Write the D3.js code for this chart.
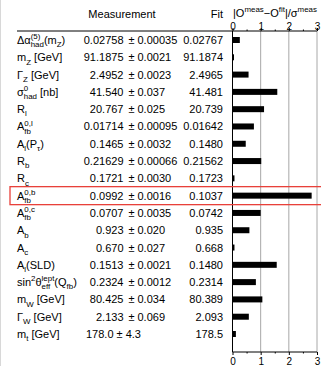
<!DOCTYPE html>
<html>
<head>
<meta charset="utf-8">
<script src="https://cdn.jsdelivr.net/npm/d3@7/dist/d3.min.js"></script>
<style>
  body { margin: 0; background: #fff; }
  text { font-family: "Liberation Sans", Arial, Helvetica, sans-serif; fill: #000; }
</style>
</head>
<body>
<svg id="chart" width="321" height="366"></svg>
<script>
// Electroweak observables: measurement, uncertainty, global-fit value and pull.
// Labels use a small markup: ^{..} superscript, _{..} subscript.
const categories = [
  "Δα^{(5)}_{had}(m_{Z})",
  "m_{Z} [GeV]",
  "Γ_{Z} [GeV]",
  "σ^{0}_{had} [nb]",
  "R_{l}",
  "A^{0,l}_{fb}",
  "A_{l}(P_{τ})",
  "R_{b}",
  "R_{c}",
  "A^{0,b}_{fb}",
  "A^{0,c}_{fb}",
  "A_{b}",
  "A_{c}",
  "A_{l}(SLD)",
  "sin^{2}θ^{lept}_{eff}(Q_{fb})",
  "m_{W} [GeV]",
  "Γ_{W} [GeV]",
  "m_{t} [GeV]"
];
const measured = ["0.02758", "91.1875", "2.4952", "41.540", "20.767", "0.01714", "0.1465",
  "0.21629", "0.1721", "0.0992", "0.0707", "0.923", "0.670", "0.1513", "0.2324",
  "80.425", "2.133", "178.0"];
const errors = ["0.00035", "0.0021", "0.0023", "0.037", "0.025", "0.00095", "0.0032",
  "0.00066", "0.0030", "0.0016", "0.0035", "0.020", "0.027", "0.0021", "0.0012",
  "0.034", "0.069", "4.3"];
const fitted = ["0.02767", "91.1874", "2.4965", "41.481", "20.739", "0.01642", "0.1480",
  "0.21562", "0.1723", "0.1037", "0.0742", "0.935", "0.668", "0.1480", "0.2314",
  "80.389", "2.093", "178.5"];
// |O_meas - O_fit| / sigma_meas
const pulls = [0.26, 0.05, 0.57, 1.59, 1.12, 0.76, 0.47, 1.02, 0.07, 2.81, 1.00,
  0.60, 0.07, 1.57, 0.83, 1.06, 0.58, 0.12];
const tickValues = [0, 1, 2, 3];
const minorTickValues = [0.5, 1.5, 2.5];
const highlighted = "A^{0,b}_{fb}";

const svg = d3.select("#chart");
const FS = 11;

const x = d3.scaleLinear().domain([0, 3]).range([232.5, 317]);
const y = d3.scalePoint().domain(categories).range([40, 334]);
const plotTop = 31, plotBottom = 352;

// parse the label markup into runs
function parseLabel(s) {
  const runs = [];
  let i = 0, buf = "";
  const flush = () => { if (buf) { runs.push({ t: buf }); buf = ""; } };
  while (i < s.length) {
    const c = s[i];
    if ((c === "^" || c === "_") && s[i + 1] === "{") {
      flush();
      const end = s.indexOf("}", i);
      const txt = s.slice(i + 2, end);
      const last = runs[runs.length - 1];
      const key = c === "^" ? "sup" : "sub";
      if (last && last.t === undefined && last[key] === undefined && last.justScript) {
        last[key] = txt;
      } else {
        runs.push({ [key]: txt, justScript: true });
      }
      i = end + 1;
    } else {
      buf += c;
      // a normal character closes any pending script group
      if (runs.length) runs[runs.length - 1].justScript = false;
      i++;
    }
  }
  flush();
  return runs;
}

// draw marked-up text starting at (x0, baseline)
function drawRich(g, s, x0, base, size) {
  let cx = x0;
  const small = size * 0.72;
  parseLabel(s).forEach(r => {
    if (r.t !== undefined) {
      const t = g.append("text").attr("x", cx).attr("y", base)
        .attr("font-size", size).attr("xml:space", "preserve").text(r.t);
      cx += t.node().getComputedTextLength();
    } else {
      let w = 0;
      if (r.sup !== undefined) {
        const t = g.append("text").attr("x", cx).attr("y", base - size * 0.42)
          .attr("font-size", small).text(r.sup);
        w = Math.max(w, t.node().getComputedTextLength());
      }
      if (r.sub !== undefined) {
        const t = g.append("text").attr("x", cx).attr("y", base + size * 0.3)
          .attr("font-size", small).text(r.sub);
        w = Math.max(w, t.node().getComputedTextLength());
      }
      cx += w;
    }
  });
  return cx;
}

// faint frame edge on the left
svg.append("line").attr("x1", 0.5).attr("x2", 0.5).attr("y1", 0).attr("y2", 366)
  .attr("stroke", "#d8d8d8");

// column headers
svg.append("text").attr("x", 122).attr("y", 18).attr("font-size", FS)
  .attr("text-anchor", "middle").text("Measurement");
svg.append("text").attr("x", 223).attr("y", 18).attr("font-size", FS)
  .attr("text-anchor", "end").text("Fit");
drawRich(svg.append("g"), "|O^{meas}−O^{fit}|/σ^{meas}", 233, 16.5, FS);

// grid lines
svg.append("g").selectAll("line").data(tickValues.filter(v => v > 0)).join("line")
  .attr("x1", d => x(d)).attr("x2", d => x(d))
  .attr("y1", plotTop).attr("y2", plotBottom)
  .attr("stroke", "#a8a8a8").attr("stroke-width", 1);

// top rule spanning the table and the pull axis
svg.append("line").attr("x1", 17).attr("x2", x(3)).attr("y1", plotTop).attr("y2", plotTop)
  .attr("stroke", "#000").attr("stroke-width", 1);

// axes
function styleAxis(g) {
  g.select(".domain").remove();
  g.selectAll(".tick line").attr("stroke", "#000");
  g.selectAll(".tick text").attr("font-size", 10).attr("fill", "#000")
    .attr("font-family", "\"Liberation Sans\", Arial, sans-serif");
}
svg.append("g").attr("transform", `translate(0,${plotTop})`)
  .call(d3.axisTop(x).tickValues(tickValues).tickSize(3).tickPadding(-1.5).tickFormat(d3.format("d")))
  .call(styleAxis);
svg.append("g").attr("transform", `translate(0,${plotTop})`)
  .call(d3.axisTop(x).tickValues(minorTickValues).tickSize(1.5).tickFormat(""))
  .call(styleAxis);
svg.append("g").attr("transform", `translate(0,${plotBottom})`)
  .call(d3.axisBottom(x).tickValues(tickValues).tickSize(3).tickPadding(3).tickFormat(d3.format("d")))
  .call(styleAxis);
svg.append("g").attr("transform", `translate(0,${plotBottom})`)
  .call(d3.axisBottom(x).tickValues(minorTickValues).tickSize(1.5).tickFormat(""))
  .call(styleAxis);
svg.append("line").attr("x1", x(0)).attr("x2", x(3)).attr("y1", plotBottom).attr("y2", plotBottom)
  .attr("stroke", "#000");
// zero line
svg.append("line").attr("x1", x(0)).attr("x2", x(0)).attr("y1", plotTop).attr("y2", plotBottom)
  .attr("stroke", "#000");

// rows
const rows = svg.append("g");
categories.forEach((c, i) => {
  const cy = y(c);
  const base = cy + 4;
  drawRich(rows.append("g"), c, 17, base, FS);
  if (errors[i].length <= 3) {
    // short uncertainty: quoted flush left
    rows.append("text").attr("x", 86).attr("y", base).attr("font-size", FS)
      .attr("xml:space", "preserve").text(`${measured[i]} ± ${errors[i]}`);
  } else {
    rows.append("text").attr("x", 123.5).attr("y", base).attr("font-size", FS)
      .attr("text-anchor", "end").text(measured[i]);
    rows.append("text").attr("x", 131.5).attr("y", base).attr("font-size", FS)
      .attr("text-anchor", "middle").text("±");
    rows.append("text").attr("x", 137.5).attr("y", base).attr("font-size", FS)
      .text(errors[i]);
  }
  rows.append("text").attr("x", 223).attr("y", base).attr("font-size", FS)
    .attr("text-anchor", "end").text(fitted[i]);
});

// pull bars
svg.append("g").selectAll("rect").data(pulls).join("rect")
  .attr("x", x(0))
  .attr("y", (d, i) => y(categories[i]) - 3)
  .attr("width", d => Math.max(1.5, x(d) - x(0)))
  .attr("height", 6)
  .attr("fill", "#000");

// highlight box around the b-quark forward-backward asymmetry
const hy = y(highlighted);
svg.append("rect").attr("x", 10).attr("y", hy - 9).attr("width", 320).attr("height", 18)
  .attr("fill", "none").attr("stroke", "#e8403a").attr("stroke-width", 1.3);
</script>
</body>
</html>
